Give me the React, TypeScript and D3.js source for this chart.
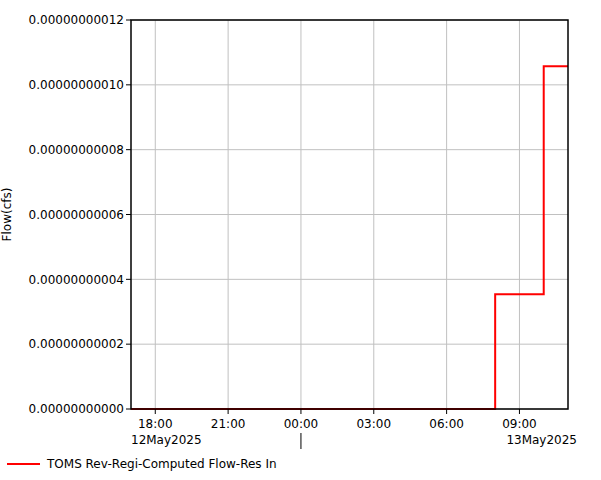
import React from "react";
import * as d3 from "d3";

const times: string[] = [
  "2025-05-12T17:00", "2025-05-12T18:00", "2025-05-12T19:00", "2025-05-12T20:00",
  "2025-05-12T21:00", "2025-05-12T22:00", "2025-05-12T23:00", "2025-05-13T00:00",
  "2025-05-13T01:00", "2025-05-13T02:00", "2025-05-13T03:00", "2025-05-13T04:00",
  "2025-05-13T05:00", "2025-05-13T06:00", "2025-05-13T07:00", "2025-05-13T08:00",
  "2025-05-13T09:00", "2025-05-13T10:00", "2025-05-13T11:00",
];
const flows: number[] = [
  0, 0, 0, 0, 0, 0, 0, 0, 0, 0, 0, 0, 0, 0, 0,
  3.54e-11, 3.54e-11, 1.057e-10, 1.057e-10,
];
const yTicks: number[] = [0, 2e-11, 4e-11, 6e-11, 8e-11, 1e-10, 1.2e-10];
const xTickTimes: string[] = [
  "2025-05-12T18:00", "2025-05-12T21:00", "2025-05-13T00:00",
  "2025-05-13T03:00", "2025-05-13T06:00", "2025-05-13T09:00",
];
const dayLabels: string[] = ["12May2025", "13May2025"];
const seriesName = "TOMS Rev-Regi-Computed Flow-Res In";
const yLabel = "Flow(cfs)";

const parse = (s: string) => new Date(s + ":00");

export default function App() {
  const W = 601, H = 480;
  const left = 131, right = 568, top = 20, bottom = 409;
  const x = d3.scaleTime()
    .domain([parse(times[0]), parse(times[times.length - 1])])
    .range([left, right]);
  const y = d3.scaleLinear().domain([0, 1.2e-10]).range([bottom, top]);
  const data = times.map((t, i) => ({ t: parse(t), v: flows[i] }));
  const line = d3.line<{ t: Date; v: number }>()
    .x((d) => x(d.t))
    .y((d) => y(d.v))
    .curve(d3.curveStepAfter);
  const fmtTime = d3.timeFormat("%H:%M");
  const font = "DejaVu Sans, Verdana, sans-serif";
  const midnight = parse("2025-05-13T00:00");
  return (
    <svg width={W} height={H} style={{ position: "absolute", left: 0, top: 0 }} fontFamily={font}>
      <rect x={0} y={0} width={W} height={H} fill="#fff" />
      {/* grid */}
      {xTickTimes.map((t) => (
        <line key={"gx" + t} x1={x(parse(t))} x2={x(parse(t))} y1={top} y2={bottom} stroke="#c0c0c0" strokeWidth={1} />
      ))}
      {yTicks.map((v) => (
        <line key={"gy" + v} x1={left} x2={right} y1={y(v)} y2={y(v)} stroke="#c0c0c0" strokeWidth={1} />
      ))}
      {/* data */}
      <path d={line(data) || ""} fill="none" stroke="#ff0000" strokeWidth={2} />
      {/* frame */}
      <rect x={left} y={top} width={right - left} height={bottom - top} fill="none" stroke="#000" strokeWidth={1.5} />
      {/* y ticks */}
      {yTicks.map((v) => (
        <g key={"yt" + v}>
          <line x1={left - 5} x2={left} y1={y(v)} y2={y(v)} stroke="#000" />
          <text x={left - 7} y={y(v)} dy="0.35em" textAnchor="end" fontSize={12} fill="#000">
            {v.toFixed(11)}
          </text>
        </g>
      ))}
      {/* x ticks */}
      {xTickTimes.map((t) => (
        <g key={"xt" + t}>
          <line x1={x(parse(t))} x2={x(parse(t))} y1={bottom} y2={bottom + 5} stroke="#000" />
          <text x={x(parse(t))} y={bottom + 19} textAnchor="middle" fontSize={12} fill="#000">
            {fmtTime(parse(t))}
          </text>
        </g>
      ))}
      <line x1={x(midnight)} x2={x(midnight)} y1={bottom + 24} y2={bottom + 40} stroke="#000" />
      <text x={left} y={bottom + 35} fontSize={12} fill="#000">{dayLabels[0]}</text>
      <text x={577} y={bottom + 35} textAnchor="end" fontSize={12} fill="#000">{dayLabels[1]}</text>
      {/* y label */}
      <text transform={`translate(11,${(top + bottom) / 2}) rotate(-90)`} textAnchor="middle" fontSize={12} fill="#000">
        {yLabel}
      </text>
      {/* legend */}
      <line x1={7} x2={40} y1={464} y2={464} stroke="#ff0000" strokeWidth={2} />
      <text x={47} y={468} fontSize={12} fill="#000">{seriesName}</text>
    </svg>
  );
}
